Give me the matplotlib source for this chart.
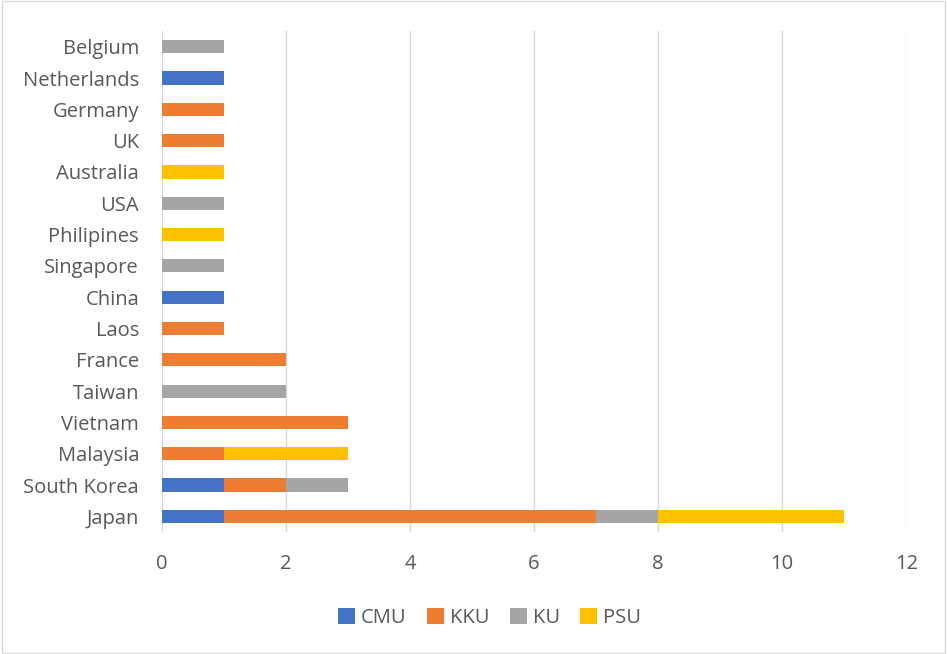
import numpy as np
import matplotlib
matplotlib.use("Agg")
import matplotlib.pyplot as plt
from matplotlib.patches import Rectangle

countries = ["Japan", "South Korea", "Malaysia", "Vietnam", "Taiwan", "France", "Laos",
             "China", "Singapore", "Philipines", "USA", "Australia", "UK", "Germany",
             "Netherlands", "Belgium"]
cmu = [1, 1, 0, 0, 0, 0, 0, 1, 0, 0, 0, 0, 0, 0, 1, 0]
kku = [6, 1, 1, 3, 0, 2, 1, 0, 0, 0, 0, 0, 1, 1, 0, 0]
ku = [1, 1, 0, 0, 2, 0, 0, 0, 1, 0, 1, 0, 0, 0, 0, 1]
psu = [3, 0, 2, 0, 0, 0, 0, 0, 0, 1, 0, 1, 0, 0, 0, 0]

series = {"CMU": cmu, "KKU": kku, "KU": ku, "PSU": psu}
colors = {"CMU": "#4472C4", "KKU": "#ED7D31", "KU": "#A5A5A5", "PSU": "#FFC000"}
text_color = "#595959"

plt.rcParams["font.family"] = ["Open Sans", "DejaVu Sans"]

fig = plt.figure(figsize=(9.47, 6.54), dpi=100)
ax = fig.add_axes([0.171, 0.1865, 0.786, 0.766])

y = np.arange(len(countries))
left = np.zeros(len(countries))
for name, vals in series.items():
    vals = np.array(vals, dtype=float)
    ax.barh(y, vals, left=left, height=0.42, color=colors[name], label=name, zorder=3)
    left += vals

ax.set_xlim(0, 12)
ax.set_ylim(-0.5, len(countries) - 0.5)
ax.set_xticks(range(0, 13, 2))
ax.set_yticks(y)
ax.set_yticklabels(countries)
ax.tick_params(axis="both", length=0, labelsize=14.5, colors=text_color)
ax.tick_params(axis="x", pad=16)
ax.tick_params(axis="y", pad=16.5)
ax.grid(axis="x", color="#D9D9D9", linewidth=1, zorder=0)
for s in ax.spines.values():
    s.set_visible(False)

ax.legend(loc="upper center", bbox_to_anchor=(0.44, -0.115), ncol=4, frameon=False,
          fontsize=14.5, labelcolor=text_color, handlelength=0.85, handleheight=0.85,
          handletextpad=0.3, columnspacing=1.0)

fig.patches.append(Rectangle((0.002, 0.002), 0.996, 0.996, transform=fig.transFigure,
                             fill=False, edgecolor="#D9D9D9", linewidth=1))

fig.savefig("out.png", dpi=100)
